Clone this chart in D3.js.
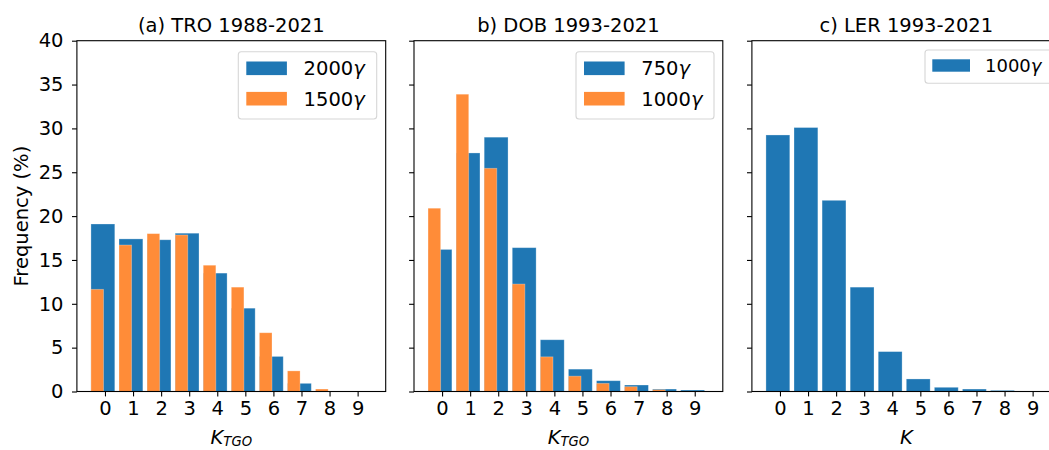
<!DOCTYPE html>
<html>
<head>
<meta charset="utf-8">
<script src="https://cdn.jsdelivr.net/npm/d3@7"></script>
<style>
  html, body { margin: 0; padding: 0; background: #fff; }
  svg { display: block; font-family: "DejaVu Sans", sans-serif; }
</style>
</head>
<body>
<svg id="chart" width="1049" height="450"></svg>
<script>
// ---- data ----
const kValues = [0, 1, 2, 3, 4, 5, 6, 7, 8, 9];
const yTicks = [0, 5, 10, 15, 20, 25, 30, 35, 40];
const panelTitles = ["(a) TRO 1988-2021", "b) DOB 1993-2021", "c) LER 1993-2021"];

const troBlue2000 = [19.1, 17.4, 17.3, 18.05, 13.5, 9.5, 4.0, 0.93, 0.04, 0.0];
const troOrange1500 = [11.65, 16.7, 18.0, 17.85, 14.4, 11.9, 6.7, 2.35, 0.28, 0.0];

const dobBlue750 = [16.2, 27.2, 29.0, 16.4, 5.9, 2.55, 1.23, 0.74, 0.28, 0.17];
const dobOrange1000 = [20.9, 33.9, 25.45, 12.25, 3.95, 1.75, 0.93, 0.55, 0.2, 0.02];

const lerBlue1000 = [29.25, 30.1, 21.8, 11.9, 4.55, 1.43, 0.48, 0.28, 0.13, 0.02];

const legendLabels = [["2000", "1500"], ["750", "1000"], ["1000"]];

// ---- layout ----
(function () {
const svg = d3.select("#chart");
const BLUE = "#1f77b4", ORANGE = "#ff8c38";
const plotTop = 40.7, plotBottom = 391.5, pw = 308.8;
const lefts = [76.9, 414.0, 751.9];
const fontSize = 19.5;

const y = d3.scaleLinear().domain([0, 40]).range([plotBottom, plotTop]);

const panels = [
  { blue: troBlue2000, orange: troOrange1500, xlabel: "TGO", legend: legendLabels[0],
    lg: { x: 238.3, y: 51.7, w: 138.4, fs: 19.5 } },
  { blue: dobBlue750, orange: dobOrange1000, xlabel: "TGO", legend: legendLabels[1],
    lg: { x: 576, y: 51.7, w: 138, fs: 19.5 } },
  { blue: lerBlue1000, orange: null, xlabel: "", legend: legendLabels[2],
    lg: { x: 925, y: 50, w: 140, fs: 18 } }
];

panels.forEach((p, i) => {
  const L = lefts[i];
  const x = d3.scaleLinear().domain([-1, 10]).range([L, L + pw]);
  const g = svg.append("g");

  // blue bars: [k-0.5, k+0.35]
  g.selectAll(".b").data(kValues).enter().append("rect")
    .attr("x", k => x(k - 0.5))
    .attr("width", k => x(k + 0.35) - x(k - 0.5))
    .attr("y", k => y(p.blue[k]))
    .attr("height", k => y(0) - y(p.blue[k]))
    .attr("fill", BLUE)
    .attr("stroke", "rgba(255,255,255,0.35)").attr("stroke-width", 0.8);

  if (p.orange) {
    g.selectAll(".o").data(kValues).enter().append("rect")
      .attr("x", k => x(k - 0.5))
      .attr("width", k => x(k - 0.05) - x(k - 0.5))
      .attr("y", k => y(p.orange[k]))
      .attr("height", k => y(0) - y(p.orange[k]))
      .attr("fill", ORANGE)
      .attr("stroke", "rgba(255,255,255,0.35)").attr("stroke-width", 0.8);
  }

  // x axis
  const xAxis = d3.axisBottom(x).tickValues(kValues).tickFormat(d3.format("d"))
    .tickSize(4.9).tickPadding(4.5).tickSizeOuter(0);
  const xa = g.append("g").attr("transform", `translate(0,${plotBottom})`).call(xAxis);
  xa.select(".domain").remove();
  xa.selectAll(".tick line").attr("stroke", "#000").attr("stroke-width", 1.1);
  xa.selectAll(".tick text").attr("font-size", fontSize).attr("fill", "#000")
    .attr("font-family", "DejaVu Sans");

  // y axis
  const yAxis = d3.axisLeft(y).tickValues(yTicks).tickSize(4.9).tickPadding(8.5).tickSizeOuter(0)
    .tickFormat(i === 0 ? d3.format("d") : () => "");
  const ya = g.append("g").attr("transform", `translate(${L},0)`).call(yAxis);
  ya.select(".domain").remove();
  ya.selectAll(".tick line").attr("stroke", "#000").attr("stroke-width", 1.1);
  ya.selectAll(".tick text").attr("font-size", fontSize).attr("fill", "#000")
    .attr("font-family", "DejaVu Sans");

  // frame
  g.append("rect").attr("x", L).attr("y", plotTop).attr("width", pw).attr("height", plotBottom - plotTop)
    .attr("fill", "none").attr("stroke", "#000").attr("stroke-width", 1.1);

  // title
  g.append("text").attr("x", L + pw / 2).attr("y", 31.7).attr("text-anchor", "middle")
    .attr("font-size", fontSize).attr("fill", "#000").text(panelTitles[i]);

  // x label
  const xl = g.append("text").attr("x", L + pw / 2).attr("y", 443.5).attr("text-anchor", "middle")
    .attr("font-size", fontSize).attr("fill", "#000").attr("font-style", "italic");
  xl.append("tspan").text("K");
  if (p.xlabel) {
    xl.append("tspan").attr("font-size", 13.2).attr("dy", 2.5).text(p.xlabel);
  }

  // legend
  const lg = p.lg;
  const rowH = 30.4;
  const n = p.legend.length;
  const boxH = n === 2 ? 67.3 : 33.3;
  g.append("rect").attr("x", lg.x).attr("y", lg.y).attr("width", lg.w).attr("height", boxH)
    .attr("rx", 3).attr("fill", "rgba(255,255,255,0.8)").attr("stroke", "#d6d6d6").attr("stroke-width", 1.1);
  const colors = [BLUE, ORANGE];
  p.legend.forEach((lab, j) => {
    const cy = n === 2 ? lg.y + 16.6 + j * rowH : lg.y + 15.5;
    const ph = n === 2 ? 13.6 : 12.4;
    const pwid = n === 2 ? 40.6 : 37.7;
    const px = lg.x + (n === 2 ? 8 : 7.3);
    g.append("rect").attr("x", px).attr("y", cy - ph / 2).attr("width", pwid).attr("height", ph)
      .attr("fill", colors[j]);
    const t = g.append("text").attr("x", px + pwid + (n === 2 ? 16.7 : 15))
      .attr("y", cy + (lg.fs * 0.729) / 2)
      .attr("font-size", lg.fs).attr("fill", "#000");
    t.append("tspan").text(lab);
    t.append("tspan").attr("font-style", "italic").text("γ");
  });
});

// y label
svg.append("text")
  .attr("transform", `translate(28,${(plotTop + plotBottom) / 2}) rotate(-90)`)
  .attr("text-anchor", "middle").attr("font-size", fontSize).attr("fill", "#000")
  .text("Frequency (%)");
})();
</script>
</body>
</html>
